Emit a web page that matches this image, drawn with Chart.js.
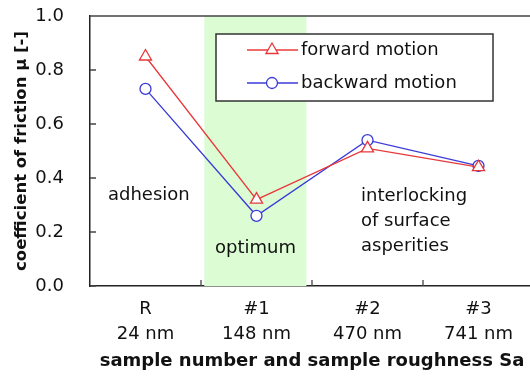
<!DOCTYPE html>
<html>
<head>
<meta charset="utf-8">
<script src="https://cdn.jsdelivr.net/npm/chart.js@4.4.1/dist/chart.umd.min.js"></script>
<style>
  html, body { margin: 0; padding: 0; background: #fff; overflow: hidden; }
  #wrap { width: 530px; height: 376px; }
</style>
</head>
<body>
<div id="wrap"><canvas id="c" width="530" height="376"></canvas></div>
<script>
// sample categories and Sa roughness
const sampleNames = ['R', '#1', '#2', '#3'];
const roughness = ['24 nm', '148 nm', '470 nm', '741 nm'];

// coefficient of friction
const forwardMotion = [0.85, 0.32, 0.51, 0.44];
const backwardMotion = [0.73, 0.26, 0.54, 0.445];

const yTicks = [0, 0.2, 0.4, 0.6, 0.8, 1.0];

// the shaded "optimum" band, in category units
const optimumBand = [0.53, 1.45];

const FONT = '"DejaVu Sans", Arial, sans-serif';
const RED = '#e8383a';
const BLUE = '#3a3ad8';
const PLOT_RIGHT = 534; // last category runs a bit past the page edge

function toPoints(vals) {
  return vals.map(function (v, i) { return { x: i, y: v }; });
}

// stretch the x scale to the wanted right edge after chart.js has laid it out
const stretchX = {
  id: 'stretchX',
  afterLayout: function (chart) {
    const x = chart.scales.x;
    x.right = PLOT_RIGHT;
    x.width = x.right - x.left;
    x.configure();
    x._labelItems = null;
    chart.chartArea.right = PLOT_RIGHT;
    chart.chartArea.width = PLOT_RIGHT - chart.chartArea.left;
  }
};

// background band, frame, inward ticks, legend and text notes
const decorations = {
  id: 'decorations',
  beforeDatasetsDraw: function (chart) {
    const ctx = chart.ctx;
    const x = chart.scales.x, y = chart.scales.y;
    const area = chart.chartArea;
    ctx.save();
    ctx.fillStyle = '#dcfcd4';
    const x0 = x.getPixelForValue(optimumBand[0]);
    const x1 = x.getPixelForValue(optimumBand[1]);
    ctx.fillRect(x0, area.top, x1 - x0, area.bottom - area.top);

    ctx.strokeStyle = '#444';
    ctx.lineWidth = 1.3;
    ctx.beginPath();
    ctx.moveTo(area.left, area.top);
    ctx.lineTo(area.right, area.top);
    // inward y ticks
    yTicks.forEach(function (t) {
      const py = y.getPixelForValue(t);
      ctx.moveTo(area.left, py);
      ctx.lineTo(area.left + 6, py);
    });
    // inward x ticks at category boundaries
    for (let i = 0; i < sampleNames.length - 1; i++) {
      const px = x.getPixelForValue(i + 0.5);
      ctx.moveTo(px, area.bottom);
      ctx.lineTo(px, area.bottom - 6);
    }
    ctx.stroke();

    ctx.fillStyle = '#111';
    ctx.font = '18px ' + FONT;
    ctx.textBaseline = 'middle';
    ctx.textAlign = 'left';
    ctx.fillText('adhesion', 108, 195);
    ctx.fillText('optimum', 215, 248);
    ctx.fillText('interlocking', 361, 196);
    ctx.fillText('of surface', 361, 221);
    ctx.fillText('asperities', 361, 246);
    ctx.restore();
  },
  afterDatasetsDraw: function (chart) {
    const ctx = chart.ctx;
    ctx.save();
    ctx.fillStyle = '#fff';
    ctx.fillRect(216, 34, 277, 67);
    ctx.strokeStyle = '#333';
    ctx.lineWidth = 1.5;
    ctx.strokeRect(216, 34, 277, 67);

    const entries = [
      { label: 'forward motion', color: RED, style: 'triangle', r: 7, y: 50 },
      { label: 'backward motion', color: BLUE, style: 'circle', r: 5.5, y: 83 }
    ];
    entries.forEach(function (e) {
      ctx.strokeStyle = e.color;
      ctx.lineWidth = 1.3;
      ctx.beginPath();
      ctx.moveTo(247, e.y);
      ctx.lineTo(298, e.y);
      ctx.stroke();
      ctx.fillStyle = '#fff';
      Chart.helpers.drawPoint(ctx, {
        pointStyle: e.style, radius: e.r, borderWidth: 1.3, rotation: 0
      }, 272, e.y);
      ctx.fillStyle = '#111';
      ctx.font = '18px ' + FONT;
      ctx.textAlign = 'left';
      ctx.textBaseline = 'middle';
      ctx.fillText(e.label, 301, e.y);
    });
    ctx.restore();
  }
};

new Chart(document.getElementById('c'), {
  type: 'line',
  data: {
    datasets: [
      {
        label: 'forward motion',
        data: toPoints(forwardMotion),
        borderColor: RED,
        backgroundColor: '#fff',
        borderWidth: 1.3,
        pointStyle: 'triangle',
        pointRadius: 7,
        pointBorderWidth: 1.3,
        tension: 0
      },
      {
        label: 'backward motion',
        data: toPoints(backwardMotion),
        borderColor: BLUE,
        backgroundColor: '#fff',
        borderWidth: 1.3,
        pointStyle: 'circle',
        pointRadius: 5.5,
        pointBorderWidth: 1.3,
        tension: 0
      }
    ]
  },
  options: {
    responsive: false,
    animation: false,
    layout: { padding: { top: 16, right: 0, left: 0, bottom: 0 } },
    plugins: {
      legend: { display: false },
      tooltip: { enabled: false }
    },
    scales: {
      x: {
        type: 'linear',
        min: -0.5,
        max: 3.5,
        afterFit: function (s) { s.height = 90; },
        afterBuildTicks: function (s) {
          s.ticks = sampleNames.map(function (n, i) { return { value: i }; });
        },
        grid: { display: false },
        border: { display: true, color: '#222', width: 1.5 },
        ticks: {
          color: '#111',
          font: { family: FONT, size: 18, lineHeight: 1.39 },
          padding: 3,
          maxRotation: 0,
          autoSkip: false,
          callback: function (v) { return [sampleNames[v], roughness[v]]; }
        },
        title: {
          display: true,
          text: 'sample number and sample roughness Sa',
          color: '#111',
          font: { family: FONT, size: 18, weight: 'bold' },
          padding: { top: 1 }
        }
      },
      y: {
        min: 0,
        max: 1,
        afterFit: function (s) {
          s.width = 90;
          s.paddingTop = 0;
          s.paddingBottom = 0;
        },
        afterBuildTicks: function (s) {
          s.ticks = yTicks.map(function (v) { return { value: v }; });
        },
        grid: { display: false },
        border: { display: true, color: '#222', width: 1.5 },
        ticks: {
          color: '#111',
          font: { family: FONT, size: 18 },
          padding: 18,
          callback: function (v) { return v.toFixed(1); }
        },
        title: {
          display: true,
          text: 'coefficient of friction μ [-]',
          color: '#111',
          font: { family: FONT, size: 16.5, weight: 'bold' },
          padding: { top: 12, bottom: 0 }
        }
      }
    }
  },
  plugins: [stretchX, decorations]
});
</script>
</body>
</html>
